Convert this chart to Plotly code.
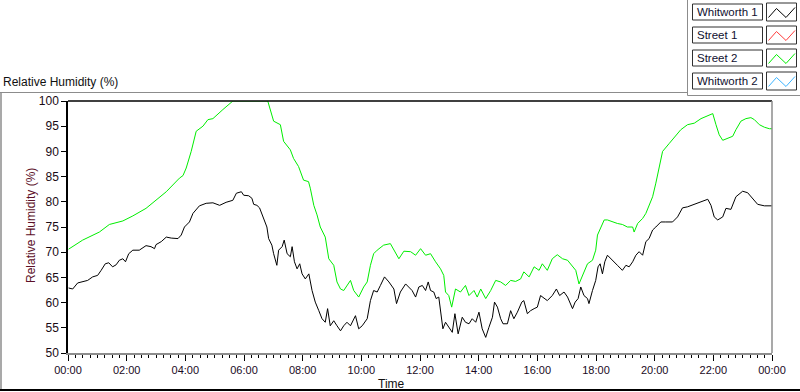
import plotly.graph_objects as go
import pandas as pd

# ---------------- data (hours since midnight, relative humidity %) ----------------
whitworth1_hours = [
    0.02, 0.16, 0.33, 0.50, 0.67, 0.84, 1.01, 1.13, 1.27, 1.39, 1.52, 1.64, 1.75, 1.87, 1.96,
    2.07, 2.21, 2.43, 2.66, 2.83, 2.95, 3.00, 3.18, 3.35, 3.52, 3.75, 3.86, 3.97, 4.14, 4.26,
    4.48, 4.71, 4.94, 5.17, 5.39, 5.62, 5.74, 5.91, 5.99, 6.16, 6.27, 6.33, 6.44, 6.53, 6.61,
    6.73, 6.78, 6.84, 6.95, 7.01, 7.12, 7.18, 7.30, 7.37, 7.47, 7.58, 7.64, 7.72, 7.81, 7.90,
    7.98, 8.09, 8.21, 8.32, 8.43, 8.55, 8.66, 8.77, 8.85, 8.94, 9.06, 9.17, 9.29, 9.40, 9.51,
    9.63, 9.80, 9.91, 10.03, 10.20, 10.31, 10.42, 10.54, 10.65, 10.79, 10.94, 11.11, 11.20,
    11.33, 11.51, 11.62, 11.73, 11.85, 11.96, 12.08, 12.19, 12.28, 12.36, 12.47, 12.55, 12.64,
    12.70, 12.78, 12.87, 12.98, 13.10, 13.19, 13.30, 13.44, 13.55, 13.67, 13.78, 13.90, 14.01,
    14.12, 14.24, 14.35, 14.47, 14.54, 14.64, 14.75, 14.83, 14.98, 15.09, 15.20, 15.32, 15.47,
    15.54, 15.66, 15.77, 15.89, 16.00, 16.11, 16.23, 16.34, 16.51, 16.65, 16.76, 16.91, 17.03,
    17.20, 17.29, 17.39, 17.48, 17.59, 17.71, 17.76, 17.88, 17.99, 18.07, 18.14, 18.22, 18.30,
    18.39, 18.50, 18.62, 18.73, 18.90, 19.02, 19.13, 19.25, 19.36, 19.47, 19.59, 19.70, 19.81,
    19.93, 20.04, 20.21, 20.38, 20.61, 20.78, 20.95, 21.12, 21.35, 21.58, 21.81, 21.92, 22.03,
    22.15, 22.32, 22.43, 22.60, 22.77, 23.00, 23.17, 23.34, 23.51, 23.74, 24.00,
]
whitworth1_rh = [
    62.9, 62.7, 63.9, 64.2, 64.4, 65.1, 65.4, 66.4, 67.7, 67.9, 67.1, 67.5, 68.4, 68.7, 68.1,
    69.7, 70.4, 70.4, 71.3, 71.1, 70.7, 71.5, 72.1, 73.0, 72.8, 72.7, 73.4, 75.0, 76.0, 77.7,
    79.2, 79.7, 79.8, 79.3, 79.9, 80.3, 81.7, 82.0, 81.3, 81.2, 80.7, 79.5, 79.3, 78.8, 77.7,
    75.7, 75.0, 72.7, 71.4, 69.7, 67.4, 70.4, 71.1, 72.4, 69.7, 69.1, 71.1, 68.1, 66.7, 67.7,
    65.7, 64.7, 65.7, 62.4, 60.1, 58.4, 56.8, 56.1, 58.8, 55.4, 56.4, 55.4, 54.4, 55.4, 56.1,
    55.4, 57.4, 54.8, 55.4, 56.8, 60.4, 62.4, 62.1, 63.4, 65.1, 64.1, 62.7, 59.8,
    62.1, 63.7, 63.1, 62.4, 61.1, 63.1, 63.4, 62.4, 64.1, 62.4, 62.1, 60.8, 61.1,
    58.4, 54.8, 56.1, 55.1, 54.1, 57.8, 53.8, 57.1, 56.1, 55.8, 56.8, 56.1, 58.1,
    54.8, 53.1, 55.1, 57.1, 60.1, 59.1, 56.8, 55.8, 55.8, 58.4, 56.8, 58.1, 60.1,
    60.4, 57.8, 58.4, 58.8, 59.1, 61.4, 60.8, 60.4, 61.4, 62.7, 61.4, 62.1, 61.1,
    58.8, 60.1, 60.8, 63.1, 61.4, 60.8, 59.8, 62.4, 64.4, 67.1, 67.7, 65.7, 68.1,
    69.4, 68.7, 68.1, 67.4, 66.4, 67.4, 67.1, 68.1, 69.4, 70.1, 69.4, 72.1, 72.7,
    74.4, 75.0, 76.0, 76.0, 76.0, 77.0, 78.8, 79.0, 79.5, 79.9, 80.5, 79.3, 77.0,
    76.4, 77.0, 78.7, 78.5, 81.0, 82.1, 81.8, 80.7, 79.5, 79.2, 79.2,
]

street2_hours = [
    0.02, 0.50, 1.07, 1.41, 1.87, 2.21, 2.66, 3.00, 3.35, 3.80, 3.92, 4.03, 4.20, 4.37, 4.60,
    4.77, 4.94, 5.28, 5.51, 5.62, 6.81, 6.90, 7.01, 7.24, 7.35, 7.58, 7.69, 7.86, 8.03, 8.20,
    8.26, 8.38, 8.49, 8.60, 8.77, 8.89, 9.06, 9.17, 9.29, 9.40, 9.63, 9.74, 9.91, 10.08, 10.20,
    10.31, 10.42, 10.54, 10.76, 10.99, 11.11, 11.28, 11.45, 11.68, 11.85, 12.02, 12.19, 12.36,
    12.53, 12.70, 12.81, 12.87, 12.98, 13.08, 13.21, 13.38, 13.55, 13.67, 13.84, 13.95, 14.07,
    14.24, 14.41, 14.58, 14.75, 14.92, 15.09, 15.26, 15.43, 15.54, 15.72, 15.89, 16.06, 16.17,
    16.34, 16.51, 16.68, 16.86, 17.03, 17.20, 17.31, 17.42, 17.54, 17.71, 17.88, 17.99, 18.05,
    18.16, 18.28, 18.39, 18.56, 18.73, 18.90, 19.07, 19.25, 19.30, 19.42, 19.59, 19.70, 19.81,
    19.93, 20.04, 20.15, 20.27, 20.50, 20.72, 20.89, 21.12, 21.35, 21.58, 21.81, 21.98, 22.09,
    22.20, 22.32, 22.49, 22.66, 22.77, 22.94, 23.11, 23.28, 23.40, 23.57, 23.74, 23.91, 24.00,
]
street2_rh = [
    70.6, 72.4, 74.0, 75.5, 76.2, 77.2, 78.7, 80.3, 82.0, 84.7, 85.2, 86.7, 90.0, 94.0, 95.0,
    96.3, 96.5, 98.3, 99.4, 100.0, 100.0, 98.3, 96.0, 95.3, 92.0, 90.3, 88.6, 87.0, 84.3, 84.0,
    82.7, 79.3, 77.4, 75.0, 73.0, 68.7, 67.4, 64.1, 62.7, 62.4, 64.4, 62.4, 61.1, 63.1, 64.1,
    67.4, 69.7, 70.4, 71.4, 71.7, 70.4, 68.7, 70.2, 70.1, 69.4, 70.7, 69.4, 69.7,
    68.1, 66.7, 65.4, 62.1, 61.4, 59.1, 62.7, 62.1, 63.4, 61.4, 62.4, 61.1, 62.7,
    60.8, 62.4, 64.4, 64.1, 63.4, 64.4, 64.2, 64.7, 66.1, 65.1, 67.1, 66.4, 67.7,
    66.4, 68.7, 69.5, 68.7, 68.4, 67.1, 66.4, 63.7, 65.4, 67.7, 68.4, 70.4, 73.4,
    74.7, 76.4, 76.4, 76.0, 75.7, 75.5, 75.0, 75.0, 74.0, 75.7, 76.7, 77.7, 79.3,
    81.0, 83.7, 86.7, 90.0, 91.6, 93.0, 94.3, 95.3, 95.6, 96.5, 97.1, 97.5, 95.3,
    93.3, 92.2, 92.6, 93.0, 94.3, 96.0, 96.5, 96.7, 96.3, 95.3, 94.8, 94.5, 94.5,
]

legend_names = ["Whitworth 1", "Street 1", "Street 2", "Whitworth 2"]
legend_colors = ["#000000", "#ff3c3c", "#00ee00", "#3cb4ff"]

y_ticks = [50, 55, 60, 65, 70, 75, 80, 85, 90, 95, 100]

# ---------------- helpers ----------------
base = pd.Timestamp("2000-01-01 00:00")


def to_time(hours):
    return [base + pd.Timedelta(hours=h) for h in hours]


# plot area in pixels
L, R, T, B = 68, 772, 101, 353
W, H = R - L, B - T


def px(x):
    return (x - L) / W


def py(y):
    return (B - y) / H


fig = go.Figure()
fig.add_trace(go.Scatter(x=to_time(whitworth1_hours), y=whitworth1_rh, mode="lines",
                         line=dict(color=legend_colors[0], width=1), name=legend_names[0],
                         showlegend=False))
fig.add_trace(go.Scatter(x=to_time(street2_hours), y=street2_rh, mode="lines",
                         line=dict(color=legend_colors[2], width=1), name=legend_names[2],
                         showlegend=False))

shapes = []
annotations = []

line_gray = "#8c8c8c"
# plot frame: top black, right gray
shapes.append(dict(type="line", xref="paper", yref="paper", x0=0, x1=1, y0=1, y1=1,
                   line=dict(color="black", width=1.5)))
shapes.append(dict(type="line", xref="paper", yref="paper", x0=1, x1=1, y0=0, y1=1,
                   line=dict(color=line_gray, width=1.5)))

# outer panel lines
shapes.append(dict(type="line", xref="paper", yref="paper", x0=px(0), x1=px(687),
                   y0=py(92.5), y1=py(92.5), line=dict(color=line_gray, width=1)))
shapes.append(dict(type="line", xref="paper", yref="paper", x0=px(1), x1=px(1),
                   y0=py(92.5), y1=py(390), line=dict(color=line_gray, width=1.5)))
shapes.append(dict(type="line", xref="paper", yref="paper", x0=px(0), x1=px(800),
                   y0=py(390), y1=py(390), line=dict(color="black", width=2)))
shapes.append(dict(type="line", xref="paper", yref="paper", x0=px(687.5), x1=px(687.5),
                   y0=py(0), y1=py(95.5), line=dict(color=line_gray, width=1)))
shapes.append(dict(type="line", xref="paper", yref="paper", x0=px(687.5), x1=px(800),
                   y0=py(95.5), y1=py(95.5), line=dict(color=line_gray, width=1)))

# custom legend
row_tops = [4, 27, 50, 73]
for name, color, top in zip(legend_names, legend_colors, row_tops):
    shapes.append(dict(type="rect", xref="paper", yref="paper",
                       x0=px(692.5), x1=px(762.5), y0=py(top), y1=py(top + 16),
                       line=dict(color="#303030", width=1), fillcolor="white"))
    shapes.append(dict(type="rect", xref="paper", yref="paper",
                       x0=px(766.5), x1=px(796.5), y0=py(top - 1), y1=py(top + 17),
                       line=dict(color="#303030", width=1), fillcolor="white"))
    pts = [(768.5, top + 13.5), (776.5, top + 4.5), (786, top + 13.5), (795, top + 3.5)]
    path = "M " + " L ".join(f"{px(a):.5f},{py(b):.5f}" for a, b in pts)
    shapes.append(dict(type="path", xref="paper", yref="paper", path=path,
                       line=dict(color=color, width=1)))
    annotations.append(dict(text=name, xref="paper", yref="paper", x=px(694.5), y=py(top + 8),
                            xanchor="left", yanchor="middle", showarrow=False,
                            font=dict(size=11.5, color="#101030")))

# titles
annotations.append(dict(text="Relative Humidity (%)", xref="paper", yref="paper",
                        x=px(1), y=py(82), xanchor="left", yanchor="middle", showarrow=False,
                        font=dict(size=12, color="#101010")))
annotations.append(dict(text="Relative Humidity (%)", xref="paper", yref="paper",
                        x=px(31), y=py(226), xanchor="center", yanchor="middle",
                        textangle=-90, showarrow=False,
                        font=dict(size=12, color="#5c1028")))
annotations.append(dict(text="Time", xref="paper", yref="paper",
                        x=px(391), y=py(384), xanchor="center", yanchor="middle",
                        showarrow=False, font=dict(size=12, color="#101010")))

fig.update_layout(
    width=800, height=392,
    margin=dict(l=L, r=800 - R, t=T, b=392 - B, pad=0),
    paper_bgcolor="white", plot_bgcolor="white",
    font=dict(family="Liberation Sans, Arial, sans-serif", size=11, color="#1a0a14"),
    shapes=shapes, annotations=annotations,
    showlegend=False,
)
fig.update_xaxes(
    type="date",
    range=[base, base + pd.Timedelta(hours=24)],
    tickformat="%H:%M", dtick=2 * 3600 * 1000, tick0=base,
    ticks="outside", ticklen=6, tickcolor="black", tickwidth=1,
    minor=dict(dtick=15 * 60 * 1000, ticks="outside", ticklen=3, tickcolor="black", tickwidth=1),
    showgrid=False, zeroline=False,
    showline=True, linecolor=line_gray, linewidth=1.5,
    tickfont=dict(size=11, color="#1a0a24"),
)
fig.update_yaxes(
    range=[50, 100], tickmode="array", tickvals=y_ticks,
    ticks="outside", ticklen=5, tickcolor="black", tickwidth=1,
    showgrid=False, zeroline=False,
    showline=True, linecolor="black", linewidth=1.5,
    tickfont=dict(size=12, color="#1a0a14"),
)

fig.write_html("out.html", config={"displayModeBar": False},
               post_script="document.body.style.margin='0';")
